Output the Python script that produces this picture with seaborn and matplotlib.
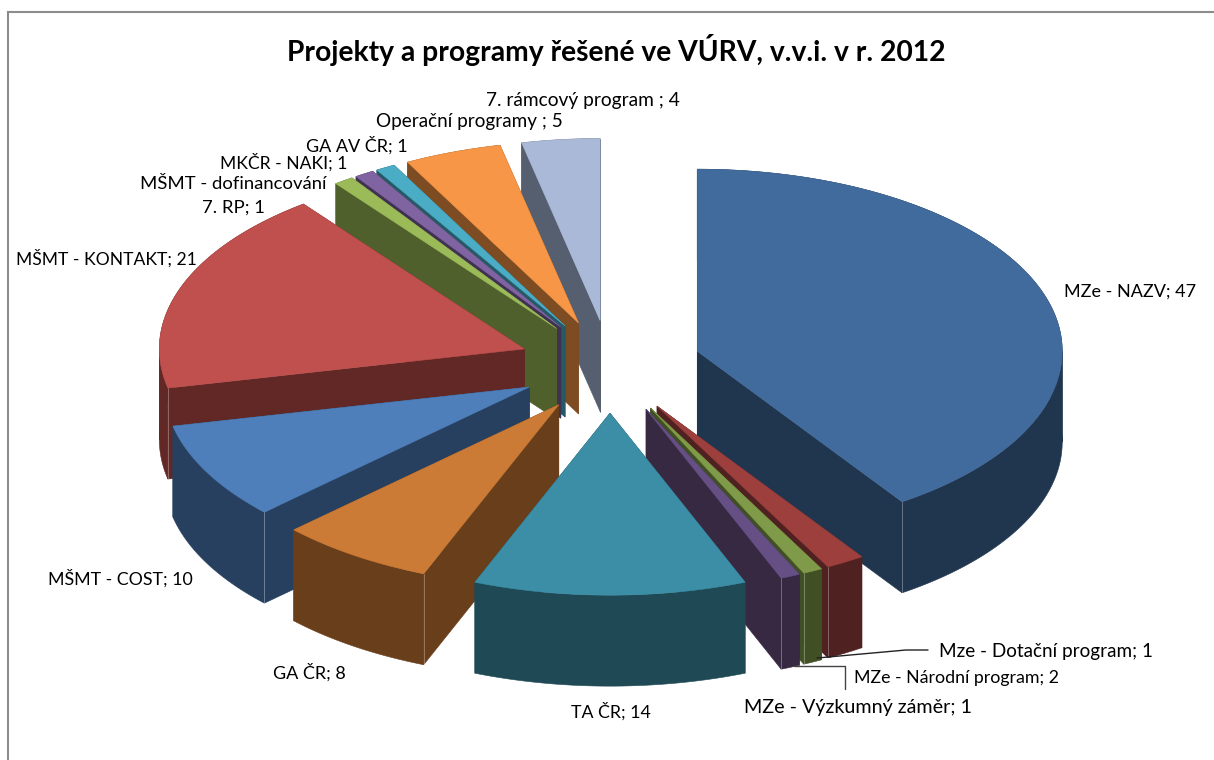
import numpy as np
import matplotlib
matplotlib.use("Agg")
import matplotlib.pyplot as plt
import seaborn as sns

# Chart data
categories = ["MZe - NAZV", "MZe - Národní program", "Mze - Dotační program", "MZe - Výzkumný záměr",
              "TA ČR", "GA ČR", "MŠMT - COST", "MŠMT - KONTAKT", "MŠMT - dofinancování\n7. RP",
              "MKČR - NAKI", "GA AV ČR", "Operační programy ", "7. rámcový program "]
values = [47, 2, 1, 1, 14, 8, 10, 21, 1, 1, 1, 5, 4]
top_colors = ["#416B9C", "#9C3F3D", "#7F9A48", "#664F85", "#3C8EA6", "#CB7B36", "#4E7FBA",
              "#C0504D", "#9BBB59", "#8064A2", "#4BACC6", "#F79646", "#AAB9D7"]
side_colors = ["#20364F", "#4F2120", "#414F24", "#372941", "#1F4A55", "#693E1A", "#28405F",
               "#622826", "#50602C", "#3F3151", "#265966", "#7D4C23", "#555F6F"]

# Label anchors in pixels (center x, center y) and sizes, tuned to the widths in the picture
label_pos = [(1130, 292), (956, 678), (1046, 652), (858, 708), (611, 711), (309, 672), (120, 578),
             (106, 258), (233, 196), (284, 162), (357, 145), (469, 121), (583, 100)]
label_size = [13, 12.8, 13.6, 14.2, 12.8, 13, 12.8, 12.6, 13.3, 12.6, 13, 13.6, 13.8]

# Pie geometry in pixels
cx, cy = 610, 364
rx, ry = 365, 182
depth = 91
explode_x = 0.25
explode_back, explode_front = 0.24, 0.27


def arc(center, a0, a1, drop=0):
    t = np.radians(np.linspace(a0, a1, max(int(abs(a1 - a0) * 2), 2)))
    return np.column_stack([center[0] + rx * np.sin(t), center[1] - ry * np.cos(t) + drop])


def wall(ax, center, a0, a1, color):
    if a1 <= a0:
        return
    pts = np.vstack([arc(center, a0, a1), arc(center, a0, a1, depth)[::-1]])
    ax.fill(pts[:, 0], pts[:, 1], color=color, lw=0.4, zorder=z[0])
    z[0] += 1


def draw_wedge(ax, a0, a1, top, side):
    mid = np.radians((a0 + a1) / 2)
    explode_y = explode_back if np.cos(mid) > 0 else explode_front
    c = (cx + explode_x * rx * np.sin(mid), cy - explode_y * ry * np.cos(mid))
    # back part of the outer wall
    wall(ax, c, a0, min(a1, 90), side)
    wall(ax, c, max(a0, 270), a1, side)
    # cut faces
    for ang in (a0, a1):
        end = arc(c, ang, ang)[0]
        xs = [c[0], end[0], end[0], c[0]]
        ys = [c[1], end[1], end[1] + depth, c[1] + depth]
        ax.fill(xs, ys, color=side, lw=0.4, zorder=z[0])
        z[0] += 1
    # front part of the outer wall
    wall(ax, c, max(a0, 90), min(a1, 270), side)
    # thin light seam where a cut face meets the outer wall
    seams = []
    if 90 < a1 < 180:
        seams.append(a1)
    if 180 < a0 < 270:
        seams.append(a0)
    for ang in seams:
        end = arc(c, ang, ang)[0]
        ax.plot([end[0], end[0]], [end[1], end[1] + depth], color="white", alpha=0.3, lw=0.7, zorder=z[0])
        z[0] += 1
    pts = np.vstack([[c], arc(c, a0, a1)])
    ax.fill(pts[:, 0], pts[:, 1], color=top, lw=0.4, zorder=z[0])
    z[0] += 1


sns.set_theme(style="white")
plt.rcParams["font.family"] = ["Lato", "DejaVu Sans"]

W, H = 1214, 760
fig = plt.figure(figsize=(W / 100, H / 100), dpi=100)
ax = fig.add_axes([8 / W, 0, (W - 8) / W, (H - 12) / H])
ax.set_xlim(8, W)
ax.set_ylim(H, 12)
ax.set_xticks([])
ax.set_yticks([])
sns.despine(ax=ax, top=False, right=True, left=False, bottom=True)
for s in ("left", "top"):
    ax.spines[s].set_color("#8C8C8C")
    ax.spines[s].set_linewidth(1.5)

# Slice angles, clockwise from 12 o'clock
edges = np.cumsum([0] + values) / sum(values) * 360
mids = (edges[:-1] + edges[1:]) / 2
z = [2]
for i in np.argsort(-np.cos(np.radians(mids))):
    draw_wedge(ax, edges[i], edges[i + 1], top_colors[i], side_colors[i])

# Labels
for name, val, (x, y), size in zip(categories, values, label_pos, label_size):
    ax.text(x, y, f"{name}; {val}", ha="center", va="center", fontsize=size, color="black",
            linespacing=1.55, zorder=100)

# Leader lines
ax.plot([928, 906, 817], [650, 650, 658], color="#222222", lw=1, zorder=99)
ax.plot([845, 845, 794], [689, 666, 666], color="#444444", lw=1, zorder=99)

ax.text(616, 50, "Projekty a programy řešené ve VÚRV, v.v.i. v r. 2012", ha="center", va="center",
        fontsize=20.3, fontweight="bold", color="black", zorder=100)

fig.savefig("out.png", dpi=100, facecolor="white")
